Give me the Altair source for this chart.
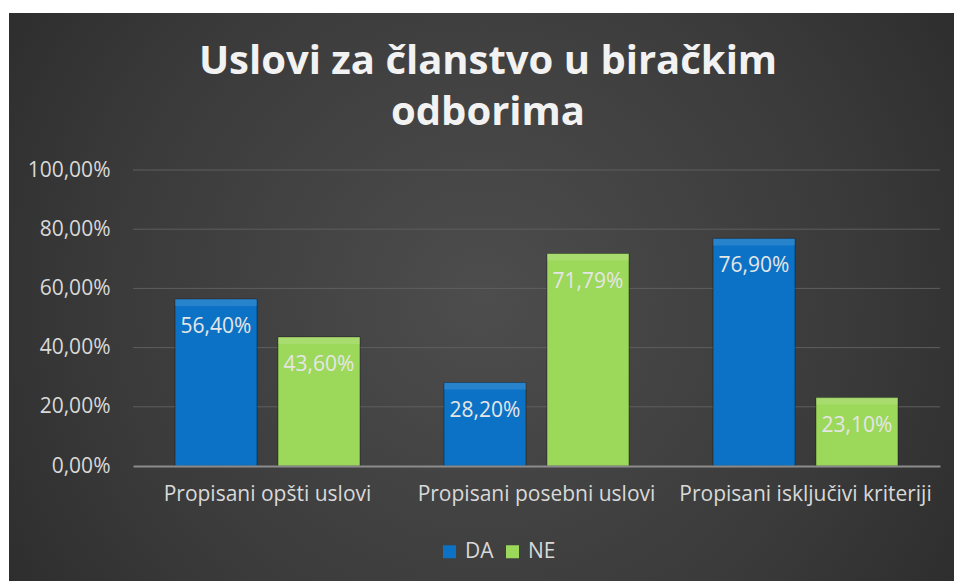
import altair as alt
import pandas as pd

categories = ["Propisani opšti uslovi", "Propisani posebni uslovi", "Propisani isključivi kriteriji"]
series = ["DA", "NE"]
da_values = [0.564, 0.282, 0.769]
ne_values = [0.436, 0.7179, 0.231]
y_ticks = [0, 0.2, 0.4, 0.6, 0.8, 1.0]
title_lines = ["Uslovi za članstvo u biračkim", "odborima"]
colors = ["#0B72C6", "#9CD85A"]

rows = []
for c, d, n in zip(categories, da_values, ne_values):
    rows.append({"kategorija": c, "serija": "DA", "vrednost": d})
    rows.append({"kategorija": c, "serija": "NE", "vrednost": n})
df = pd.DataFrame(rows)
grid_df = pd.DataFrame({"v": y_ticks[1:]})

W, H = 807, 296
PAD_L, PAD_T, PAD_R, PAD_B = 133, 170, 14, 115
FONT = "Open Sans"
FS = 21

bg = alt.Chart(alt.Data(values=[{"a": 1}])).mark_rect(
    fill=alt.RadialGradient(
        gradient="radial",
        stops=[alt.GradientStop(color="#4d4d4d", offset=0),
               alt.GradientStop(color="#3a3a3a", offset=0.55),
               alt.GradientStop(color="#252525", offset=1)],
        x1=0.5, y1=0.5, x2=0.5, y2=0.5, r1=0, r2=0.72,
    )
).encode(
    x=alt.value(-(PAD_L - 9)), x2=alt.value(W + PAD_R),
    y=alt.value(-(PAD_T - 13)), y2=alt.value(H + PAD_B),
)

title1 = alt.Chart(alt.Data(values=[{"t": title_lines[0]}])).mark_text(
    font=FONT, fontSize=40, fontWeight="bold", color="#f2f2f2", baseline="middle", align="center"
).encode(x=alt.value(355), y=alt.value(-108), text="t:N")
title2 = alt.Chart(alt.Data(values=[{"t": title_lines[1]}])).mark_text(
    font=FONT, fontSize=40, fontWeight="bold", color="#f2f2f2", baseline="middle", align="center"
).encode(x=alt.value(355), y=alt.value(-57), text="t:N")

grid = alt.Chart(grid_df).mark_rule(color="#5e5e5e", strokeWidth=1).encode(
    y=alt.Y("v:Q", scale=alt.Scale(domain=[0, 1], nice=False)),
)

x_enc = alt.X("kategorija:N", sort=categories, title=None,
              scale=alt.Scale(paddingInner=0, paddingOuter=0),
              axis=alt.Axis(labelAngle=0, labelFontSize=FS, labelColor="#d9d9d9",
                            labelFont=FONT, labelPadding=17, ticks=False, zindex=1, labelLimit=0,
                            domain=True, domainColor="#8c8c8c", domainWidth=2, grid=False))
xo_enc = alt.XOffset("serija:N", sort=series,
                     scale=alt.Scale(paddingInner=0.204, paddingOuter=0.408))
y_enc = alt.Y("vrednost:Q", title=None,
              scale=alt.Scale(domain=[0, 1], nice=False),
              axis=alt.Axis(values=y_ticks, labelExpr="replace(format(datum.value, '.2%'), '.', ',')",
                            labelFontSize=FS, labelColor="#d9d9d9", labelFont=FONT, zindex=1,
                            labelPadding=23, ticks=False, domain=False, grid=False))

bars = alt.Chart(df).mark_bar(stroke="#000000", strokeOpacity=0.35, strokeWidth=1).encode(
    x=x_enc, xOffset=xo_enc, y=y_enc,
    color=alt.Color("serija:N", sort=series, title=None,
                    scale=alt.Scale(domain=series, range=colors),
                    legend=alt.Legend(orient="none", legendX=306, legendY=371, zindex=1,
                                      direction="horizontal", symbolType="square",
                                      symbolSize=169, symbolStrokeWidth=0,
                                      labelFontSize=FS, labelColor="#d9d9d9", labelFont=FONT,
                                      columnPadding=8, labelOffset=5)),
)

highlight = alt.Chart(df).mark_bar(fill="white", fillOpacity=0.12, y2Offset=7, xOffset=1, x2Offset=-1).encode(
    x=alt.X("kategorija:N", sort=categories),
    xOffset=alt.XOffset("serija:N", sort=series),
    y=alt.Y("vrednost:Q"),
    y2=alt.Y2("vrednost:Q"),
)

labels = alt.Chart(df).transform_calculate(
    label="replace(format(datum.vrednost, '.2%'), '.', ',')"
).mark_text(baseline="middle", dy=28, color="#e6e6e6", fontSize=FS, font=FONT).encode(
    x=alt.X("kategorija:N", sort=categories),
    xOffset=alt.XOffset("serija:N", sort=series),
    y=alt.Y("vrednost:Q"),
    text="label:N",
)

chart = alt.layer(bg, title1, title2, grid, bars, highlight, labels).properties(
    width=W, height=H,
    autosize=alt.AutoSizeParams(type="none"),
    padding={"left": PAD_L, "top": PAD_T, "right": PAD_R, "bottom": PAD_B},
    background="white",
).configure_view(stroke=None)

chart.save("out.html", embed_options={"renderer": "svg", "actions": False})
